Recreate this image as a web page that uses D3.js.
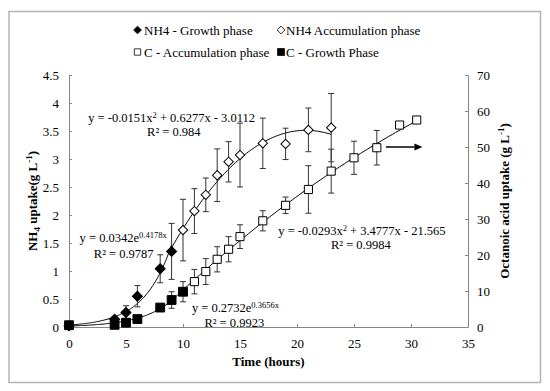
<!DOCTYPE html>
<meta charset="utf-8">
<script src="https://d3js.org/d3.v7.min.js"></script>
<style>
  body { margin: 0; background: #fff; }
  svg text { font-family: "Liberation Serif", "Times New Roman", "DejaVu Serif", serif; fill: #000; }
</style>
<div id="chart"></div>

<script>
  // ---- data ----
  // NH4 growth phase (left axis, g/L)
  var growthTime = [0, 4, 5, 6, 8, 9];
  var nh4Growth = [0.02, 0.14, 0.26, 0.55, 1.04, 1.35];
  var nh4GrowthErr = [0.02, 0.05, 0.12, 0.19, 0.25, 0.5];

  // NH4 accumulation phase (left axis)
  var accTime = [10, 11, 12, 13, 14, 15, 17, 19, 21, 23];
  var nh4Acc = [1.73, 2.07, 2.36, 2.71, 2.95, 3.07, 3.28, 3.27, 3.52, 3.56];
  var nh4AccErr = [0.55, 0.4, 0.3, 0.47, 0.36, 0.57, 0.45, 0.28, 0.39, 0.61];

  // C growth phase (right axis, octanoic acid g/L)
  var cGrowthTime = [0, 4, 5, 6, 8, 9, 10];
  var cGrowth = [0.5, 0.6, 1.2, 2.2, 5.4, 7.5, 9.8];
  var cGrowthErr = [0.2, 0.3, 0.4, 0.4, 0.6, 2.3, 2.8];

  // C accumulation phase (right axis)
  var cAccTime = [11, 12, 13, 14, 15, 17, 19, 21, 23, 25, 27, 29, 30.5];
  var cAcc = [12.6, 15.4, 18.8, 21.6, 25.1, 29.5, 33.8, 38.2, 43.3, 47.0, 49.8, 56.1, 57.5];
  var cAccErr = [3.4, 3.6, 3.5, 3.5, 3.3, 2.8, 2.3, 6.6, 6.1, 4.6, 4.8, 0, 0];

  // trendline coefficients as printed on the chart
  var nh4GrowthFit = [0.0342, 0.4178];            // a*e^(bx)
  var nh4AccFit = [-0.0151, 0.6277, -3.0112];     // ax^2+bx+c
  var cGrowthFit = [0.2732, 0.3656];
  var cAccFit = [-0.0293, 3.4777, -21.565];

  var xTicks = [0, 5, 10, 15, 20, 25, 30, 35];
  var yTicks = [0, 0.5, 1, 1.5, 2, 2.5, 3, 3.5, 4, 4.5];
  var y2Ticks = [0, 10, 20, 30, 40, 50, 60, 70];

  var legendNames = ["NH4 - Growth phase", "NH4 Accumulation phase", "C - Accumulation phase", "C - Growth Phase"];

  // ---- svg ----
  var W = 550, H = 391;
  var margin = { top: 75, right: 82, bottom: 64, left: 69 },
    width = W - margin.left - margin.right,
    height = H - margin.top - margin.bottom;

  var svg = d3.select("#chart")
    .append("svg")
    .attr("width", W)
    .attr("height", H);

  // outer frame
  svg.append("rect")
    .attr("x", 9).attr("y", 11.5)
    .attr("width", 531.5).attr("height", 371)
    .attr("fill", "none")
    .attr("stroke", "#b4b4b4")
    .attr("stroke-width", 1.5);

  var g = svg.append("g")
    .attr("transform", "translate(" + margin.left + "," + margin.top + ")");

  var x = d3.scaleLinear().domain([0, 35]).range([0, width]);
  var y = d3.scaleLinear().domain([0, 4.5]).range([height, 0]);
  var y2 = d3.scaleLinear().domain([0, 70]).range([height, 0]);

  // axes
  function styleAxis(sel) {
    sel.attr("font-family", null);
    sel.select(".domain").attr("stroke", "#868686");
    sel.selectAll(".tick line").attr("stroke", "#868686");
    sel.selectAll("text")
      .style("font-size", "13px")
      .attr("fill", "#000");
  }

  g.append("g")
    .attr("transform", "translate(0," + height + ")")
    .call(d3.axisBottom(x).tickValues(xTicks).tickFormat(d3.format("")).tickSizeInner(-3).tickSizeOuter(0).tickPadding(12))
    .call(styleAxis);

  g.append("g")
    .call(d3.axisLeft(y).tickValues(yTicks).tickFormat(d3.format("")).tickSizeInner(-3).tickSizeOuter(0).tickPadding(10))
    .call(styleAxis);

  g.append("g")
    .attr("transform", "translate(" + width + ",0)")
    .call(d3.axisRight(y2).tickValues(y2Ticks).tickFormat(d3.format("")).tickSizeInner(-3).tickSizeOuter(0).tickPadding(9))
    .call(styleAxis);

  // axis titles
  svg.append("text")
    .attr("x", margin.left + width / 2)
    .attr("y", 366)
    .attr("text-anchor", "middle")
    .style("font-size", "13px")
    .style("font-weight", "bold")
    .text("Time (hours)");

  var lt = svg.append("text")
    .attr("transform", "translate(37," + (margin.top + height / 2) + ")rotate(-90)")
    .attr("text-anchor", "middle")
    .style("font-size", "13px")
    .style("font-weight", "bold");
  lt.append("tspan").text("NH");
  lt.append("tspan").attr("dy", 3).style("font-size", "9px").text("4");
  lt.append("tspan").attr("dy", -3).text(" uptake(g L");
  lt.append("tspan").attr("dy", -5).style("font-size", "9px").text("-1");
  lt.append("tspan").attr("dy", 5).text(")");

  var rt = svg.append("text")
    .attr("transform", "translate(509," + (margin.top + height / 2) + ")rotate(-90)")
    .attr("text-anchor", "middle")
    .style("font-size", "13px")
    .style("font-weight", "bold");
  rt.append("tspan").text("Octanoic acid uptake (g L");
  rt.append("tspan").attr("dy", -5).style("font-size", "9px").text("-1");
  rt.append("tspan").attr("dy", 5).text(")");

  // ---- trendlines ----
  function expFit(c) { return function (t) { return c[0] * Math.exp(c[1] * t); }; }
  function polyFit(c) { return function (t) { return c[0] * t * t + c[1] * t + c[2]; }; }

  function trend(f, t0, t1, ys) {
    var pts = d3.range(0, 101).map(function (i) { var t = t0 + (t1 - t0) * i / 100; return [t, f(t)]; });
    g.append("path")
      .datum(pts)
      .attr("fill", "none")
      .attr("stroke", "#000")
      .attr("stroke-width", 1)
      .attr("d", d3.line().x(function (d) { return x(d[0]); }).y(function (d) { return ys(d[1]); }));
  }

  trend(expFit(nh4GrowthFit), 0, 9, y);
  trend(polyFit(nh4AccFit), 9, 23, y);
  trend(expFit(cGrowthFit), 0, 10, y2);
  trend(polyFit(cAccFit), 10, 30.5, y2);

  // ---- error bars ----
  function errBars(ts, vs, es, ys) {
    var d = ts.map(function (t, i) { return { t: t, v: vs[i], e: es[i] }; })
      .filter(function (d) { return d.e > 0; });
    var eb = g.append("g").attr("stroke", "#333").attr("stroke-width", 1);
    eb.selectAll(".v").data(d).enter().append("line")
      .attr("x1", function (d) { return x(d.t); }).attr("x2", function (d) { return x(d.t); })
      .attr("y1", function (d) { return ys(d.v - d.e); }).attr("y2", function (d) { return ys(d.v + d.e); });
    [-1, 1].forEach(function (s) {
      eb.selectAll(".c").data(d).enter().append("line")
        .attr("x1", function (d) { return x(d.t) - 3; }).attr("x2", function (d) { return x(d.t) + 3; })
        .attr("y1", function (d) { return ys(d.v + s * d.e); }).attr("y2", function (d) { return ys(d.v + s * d.e); });
    });
  }

  errBars(accTime, nh4Acc, nh4AccErr, y);
  errBars(cAccTime, cAcc, cAccErr, y2);
  errBars(growthTime, nh4Growth, nh4GrowthErr, y);
  errBars(cGrowthTime, cGrowth, cGrowthErr, y2);

  // ---- markers ----
  var diamond = d3.symbol().type(d3.symbolSquare).size(44);
  var squareBig = d3.symbol().type(d3.symbolSquare).size(78);
  var squareOpen = d3.symbol().type(d3.symbolSquare).size(66);

  function markers(ts, vs, ys, sym, rot, fill) {
    g.append("g").selectAll("path")
      .data(ts.map(function (t, i) { return [t, vs[i]]; }))
      .enter().append("path")
      .attr("transform", function (d) { return "translate(" + x(d[0]) + "," + ys(d[1]) + ")rotate(" + rot + ")"; })
      .attr("d", sym)
      .attr("fill", fill)
      .attr("stroke", "#000")
      .attr("stroke-width", 1);
  }

  markers(accTime, nh4Acc, y, diamond, 45, "#fff");
  markers(cAccTime, cAcc, y2, squareOpen, 0, "#fff");
  markers(cGrowthTime, cGrowth, y2, squareBig, 0, "#000");
  markers(growthTime, nh4Growth, y, d3.symbol().type(d3.symbolSquare).size(50), 45, "#000");

  // arrow pointing at the right axis (placed in data units)
  var arrowFrom = [27.8, 50], arrowTo = [30.3, 50];
  g.append("line")
    .attr("x1", x(arrowFrom[0])).attr("y1", y2(arrowFrom[1]))
    .attr("x2", x(arrowTo[0])).attr("y2", y2(arrowTo[1]))
    .attr("stroke", "#000").attr("stroke-width", 1.5);
  g.append("path")
    .attr("d", "M0,-3.5L8,0L0,3.5Z")
    .attr("transform", "translate(" + x(arrowTo[0]) + "," + y2(arrowTo[1]) + ")")
    .attr("fill", "#000");

  // ---- equation labels (positions in left-axis units) ----
  function eq(parts, cx, cy) {
    var t = g.append("text")
      .attr("x", x(cx)).attr("y", y(cy))
      .attr("text-anchor", "middle")
      .style("font-size", "12.5px");
    parts.forEach(function (p) {
      var s = t.append("tspan").text(p[0]);
      if (p[1] === "sup") s.attr("dy", -4).style("font-size", "8.5px");
      if (p[1] === "down") s.attr("dy", 4);
    });
  }

  eq([["y = -0.0151x"], ["2", "sup"], [" + 0.6277x - 3.0112", "down"]], 9.0, 3.66);
  eq([["R² = 0.984"]], 9.2, 3.41);
  eq([["y = 0.0342e"], ["0.4178x", "sup"]], 4.75, 1.51);
  eq([["R² = 0.9787"]], 4.8, 1.24);
  eq([["y = 0.2732e"], ["0.3656x", "sup"]], 14.6, 0.27);
  eq([["R² = 0.9923"]], 14.5, 0.005);
  eq([["y = -0.0293x"], ["2", "sup"], [" + 3.4777x - 21.565", "down"]], 25.7, 1.65);
  eq([["R² = 0.9984"]], 25.6, 1.40);

  // ---- legend ----
  var legendPos = [[137.5, 30, 144], [281, 30, 286], [137.5, 52, 144], [281, 52, 286]];
  var legendSym = [
    { size: 30, rot: 45, fill: "#000" },
    { size: 30, rot: 45, fill: "#fff" },
    { size: 40, rot: 0, fill: "#fff" },
    { size: 48, rot: 0, fill: "#000" }
  ];
  legendNames.forEach(function (name, i) {
    var p = legendPos[i], s = legendSym[i];
    svg.append("path")
      .attr("transform", "translate(" + p[0] + "," + p[1] + ")rotate(" + s.rot + ")")
      .attr("d", d3.symbol().type(d3.symbolSquare).size(s.size)())
      .attr("fill", s.fill)
      .attr("stroke", "#000")
      .attr("stroke-width", 0.8);
    svg.append("text")
      .attr("x", p[2]).attr("y", p[1] + 4.5)
      .style("font-size", "13px")
      .text(name);
  });
</script>
